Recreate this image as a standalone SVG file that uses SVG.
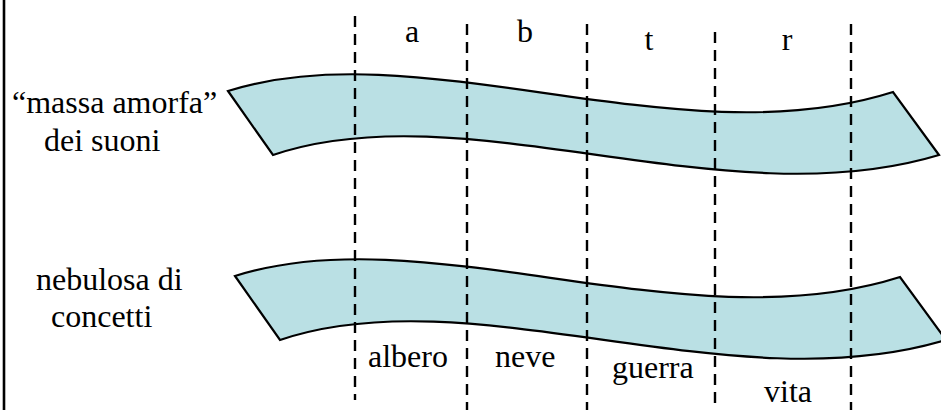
<svg xmlns="http://www.w3.org/2000/svg" width="941" height="410" viewBox="0 0 941 410">
<style>
.band{fill:#BAE0E4;stroke:#000;stroke-width:2.2;stroke-linejoin:miter}
.dash{stroke:#000;stroke-width:2.4;stroke-dasharray:11 7;fill:none}
.lbl{font-family:"Liberation Serif","Times New Roman",serif;font-size:32px;fill:#000}
.mid{text-anchor:middle}
</style>
<rect width="941" height="410" fill="#fff"/>
<line x1="4" y1="0" x2="4" y2="410" stroke="#000" stroke-width="2.6"/>
<g id="band-suoni">
<path class="band" d="M228,91 C420,30 680,160 893,92 L939,155 C725,220 465,90 273,155 Z"/>
</g>
<g id="band-concetti">
<path class="band" transform="translate(7,185)" d="M228,91 C420,30 680,160 893,92 L939,155 C725,220 465,90 273,155 Z"/>
</g>
<g id="connectors">
<line class="dash" x1="355" y1="16" x2="355" y2="400"/>
<line class="dash" x1="467" y1="24" x2="467" y2="410"/>
<line class="dash" x1="587" y1="24" x2="587" y2="410"/>
<line class="dash" x1="715" y1="32" x2="715" y2="410"/>
<line class="dash" x1="851" y1="24" x2="851" y2="410"/>
</g>
<g id="label-suoni">
<text class="lbl" x="12" y="113">“massa amorfa”</text>
<text class="lbl" x="44" y="151">dei suoni</text>
</g>
<g id="label-concetti">
<text class="lbl" x="36" y="290">nebulosa di</text>
<text class="lbl" x="51" y="327">concetti</text>
</g>
<g id="sounds">
<text class="lbl mid" x="412" y="42">a</text>
<text class="lbl mid" x="525" y="42">b</text>
<text class="lbl mid" x="649" y="50">t</text>
<text class="lbl mid" x="787" y="50">r</text>
</g>
<g id="concepts">
<text class="lbl" x="368" y="367">albero</text>
<text class="lbl" x="495" y="367">neve</text>
<text class="lbl" x="612" y="378">guerra</text>
<text class="lbl" x="764" y="402">vita</text>
</g>
</svg>
